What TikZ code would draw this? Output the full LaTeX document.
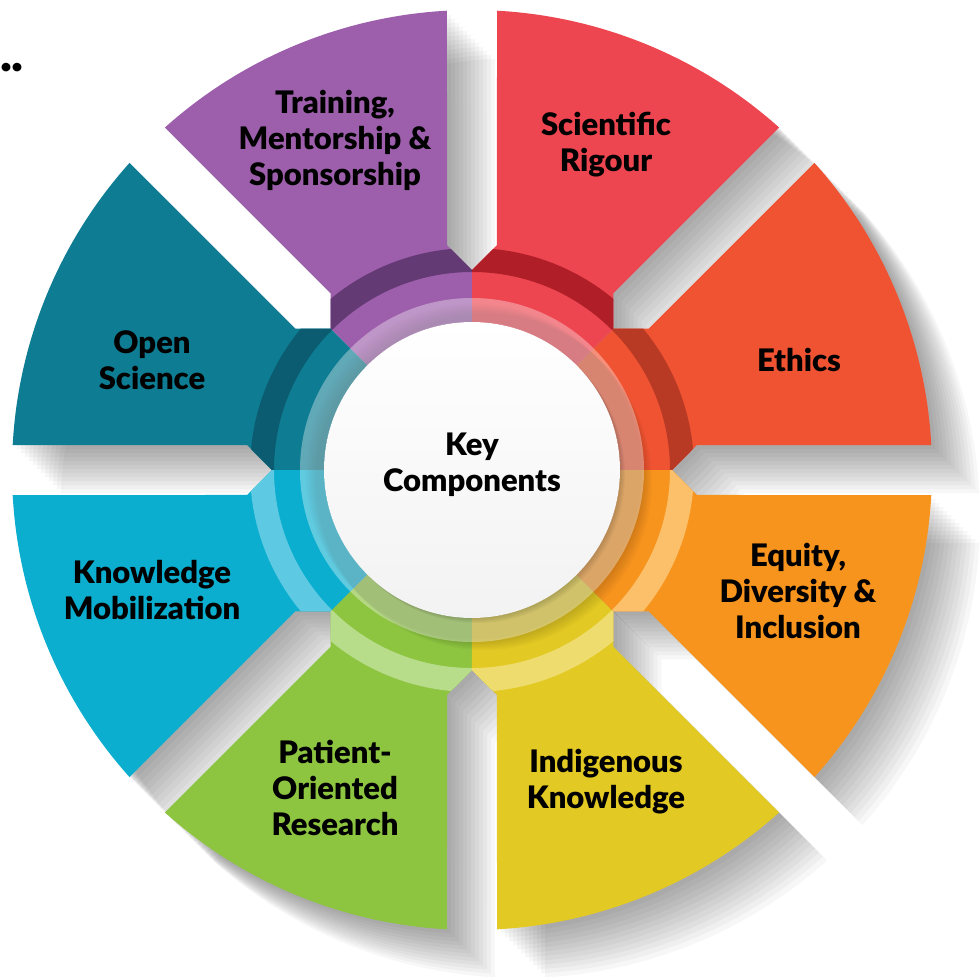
\documentclass[tikz,border=0pt]{standalone}
\usepackage{fontspec}
\setmainfont{Lato}[BoldFont={Lato Black}]
\usepackage{tikz}

\definecolor{ethicsc}{HTML}{F05332}
\definecolor{ethicsd}{HTML}{B83A25}
\definecolor{rigourc}{HTML}{EE4650}
\definecolor{rigourd}{HTML}{B01E28}
\definecolor{trainc}{HTML}{9D5FAB}
\definecolor{traind}{HTML}{633A73}
\definecolor{openc}{HTML}{0E7C93}
\definecolor{opend}{HTML}{0B5C70}
\definecolor{mobilc}{HTML}{0BAECF}
\definecolor{mobild}{HTML}{5DC9E2}
\definecolor{patientc}{HTML}{8DC440}
\definecolor{patientd}{HTML}{B7DC8A}
\definecolor{indigc}{HTML}{E3C923}
\definecolor{indigd}{HTML}{EEDD6E}
\definecolor{equityc}{HTML}{F7941E}
\definecolor{equityd}{HTML}{FCC06A}

% one piece of the wheel, from angle #1 to angle #2
\newcommand{\segshape}[2]{(0,0) -- (#1:200) -- (#1+6.34:226.38) -- (#1+3.116:460)
  arc[start angle=#1+3.116, end angle=#2-3.116, radius=460]
  -- (#2-6.34:226.38) -- (#2:200) -- cycle}
\newcommand{\segshadow}[2]{\foreach \k in {1,...,12}{\fill[black,opacity=0.03,shift={(\k*4,-\k*4)}] \segshape{#1}{#2};}}
\newcommand{\segfill}[4]{\fill[#3] \segshape{#1}{#2};
  \begin{scope}
    \clip \segshape{#1}{#2};
    \fill[#4,even odd rule] (0,0) circle[radius=222] (0,0) circle[radius=198];
  \end{scope}}

\begin{document}
\begin{tikzpicture}[x=1pt,y=1pt,
  segtext/.style={font=\fontsize{31}{36}\selectfont\bfseries, align=center, text=black}]
  \useasboundingbox (-472,-508) rectangle (508,470);
  \fill[white] (-472,-508) rectangle (508,470);

  % shadows first
  \segshadow{0}{45}   \segshadow{45}{90}   \segshadow{90}{135}  \segshadow{135}{180}
  \segshadow{180}{225} \segshadow{225}{270} \segshadow{270}{315} \segshadow{315}{360}

  \segfill{0}{45}{ethicsc}{ethicsd}
  \segfill{45}{90}{rigourc}{rigourd}
  \segfill{90}{135}{trainc}{traind}
  \segfill{135}{180}{openc}{opend}
  \segfill{180}{225}{mobilc}{mobild}
  \segfill{225}{270}{patientc}{patientd}
  \segfill{270}{315}{indigc}{indigd}
  \segfill{315}{360}{equityc}{equityd}

  % centre disc
  \foreach \k in {1,...,8}{\fill[black,opacity=0.022] (\k*1.5,-\k*1.5) circle[radius=168];}
  \fill[white,opacity=0.35,even odd rule] (0,0) circle[radius=172] (0,0) circle[radius=148];
  \foreach \k in {1,...,5}{\fill[black,opacity=0.03] (\k*1,-\k*1) circle[radius=148];}
  \shade[top color=white, bottom color=black!5] (0,0) circle[radius=148];
  \node[segtext] (core) at (0,5) {Key\\Components};

  \node[segtext] (ethics) at (327,110) {Ethics};
  \node[segtext] (rigour) at (134,325) {Scientific\\Rigour};
  \node[segtext] (train) at (-137,330) {Training,\\Mentorship \&\\Sponsorship};
  \node[segtext] (open) at (-320,110) {Open\\Science};
  \node[segtext] (mobil) at (-320,-120) {Knowledge\\Mobilization};
  \node[segtext] (patient) at (-137,-318) {Patient-\\Oriented\\Research};
  \node[segtext] (indig) at (134,-312) {Indigenous\\Knowledge};
  \node[segtext] (equity) at (326,-121) {Equity,\\Diversity \&\\Inclusion};
  \node[font=\fontsize{50}{50}\selectfont\bfseries] (dots) at (-460,402) {..};
\end{tikzpicture}
\end{document}
